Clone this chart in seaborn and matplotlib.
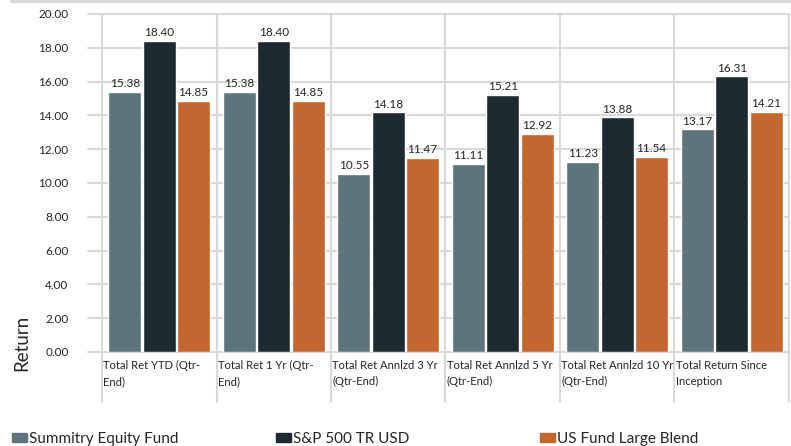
import pandas as pd
import seaborn as sns
import matplotlib.pyplot as plt
from matplotlib.lines import Line2D

# data
categories = ["Total Ret YTD (Qtr-\nEnd)", "Total Ret 1 Yr (Qtr-\nEnd)",
              "Total Ret Annlzd 3 Yr\n(Qtr-End)", "Total Ret Annlzd 5 Yr\n(Qtr-End)",
              "Total Ret Annlzd 10 Yr\n(Qtr-End)", "Total Return Since\nInception"]
series = ["Summitry Equity Fund", "S&P 500 TR USD", "US Fund Large Blend"]
summitry = [15.38, 15.38, 10.55, 11.11, 11.23, 13.17]
sp500 = [18.40, 18.40, 14.18, 15.21, 13.88, 16.31]
large_blend = [14.85, 14.85, 11.47, 12.92, 11.54, 14.21]
colors = ["#5E747B", "#1D2A32", "#C4662F"]

rows = []
for name, vals in zip(series, [summitry, sp500, large_blend]):
    for cat, v in zip(categories, vals):
        rows.append({"cat": cat, "series": name, "value": v})
data = pd.DataFrame(rows)

sns.set_style("white")
plt.rcParams['font.family'] = ['Lato', 'DejaVu Sans']

fig = plt.figure(figsize=(7.91, 4.46), dpi=100)
ax = fig.add_axes([102 / 791, 1 - 352 / 446, 687 / 791, 338 / 446])

sns.barplot(data=data, x="cat", y="value", hue="series", palette=colors,
            width=0.9, gap=0.04, saturation=1, legend=False, ax=ax)

ax.set_ylim(0, 20)
ax.set_xlim(-0.5, len(categories) - 0.5)
ax.set_yticks([i * 2 for i in range(11)])
ax.set_yticklabels(["%.2f" % (i * 2) for i in range(11)], fontsize=8.5, color="#262626")
ax.tick_params(axis="y", length=0, pad=24)
ax.set_xticks([])
ax.set_xlabel("")
ax.set_ylabel("")
for s in ax.spines.values():
    s.set_visible(False)

grid_c = "#d9d9d9"
# horizontal gridlines, poking out a bit on the left
for y in range(0, 21, 2):
    ax.axhline(y, xmin=-14 / 687, xmax=1, color=grid_c, lw=1.5, clip_on=False, zorder=0)
# vertical separators that run down through the labels
for i in range(len(categories) + 1):
    ax.axvline(i - 0.5, ymin=-50 / 338, ymax=1, color=grid_c, lw=1.5, clip_on=False, zorder=0)

for c in ax.containers:
    ax.bar_label(c, fmt="%.2f", padding=2, fontsize=8.5, color="#262626")

for i, cat in enumerate(categories):
    ax.annotate(cat, xy=(i - 0.5, 0), xytext=(1, -6), textcoords="offset points",
                ha="left", va="top", fontsize=8.1, color="#262626", linespacing=1.5)

fig.text(22 / 791, 1 - 343 / 446, "Return", rotation=90, ha="center", va="center",
         fontsize=13.5, color="#262626")

# gray strip along the top
fig.add_artist(Line2D([12 / 791, 1], [1 - 1 / 446, 1 - 1 / 446], color=grid_c, lw=3,
                      transform=fig.transFigure))

# legend entries, spaced evenly across the bottom
for x, name, col in zip([12, 276, 540], series, colors):
    h = plt.Rectangle((0, 0), 1, 1, color=col)
    fig.legend([h], [name], loc="center left", bbox_to_anchor=(x / 791, 1 - 439 / 446),
               frameon=False, fontsize=11, handlelength=1.0, handleheight=0.55,
               handletextpad=0.1, borderpad=0, borderaxespad=0, labelcolor="#262626")

fig.savefig("out.png", dpi=100)
